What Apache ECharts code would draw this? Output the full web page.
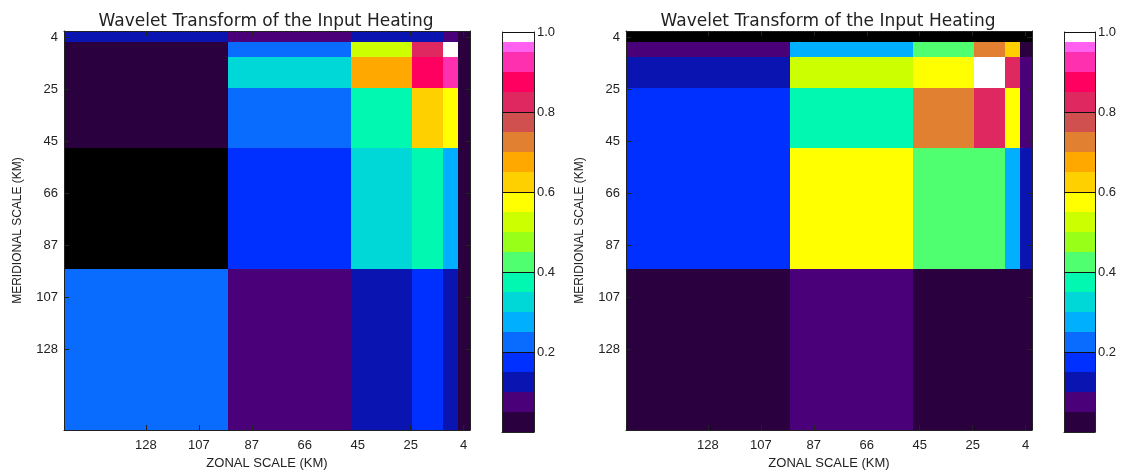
<!DOCTYPE html>
<html>
<head>
<meta charset="utf-8">
<script src="https://cdn.jsdelivr.net/npm/echarts@6/dist/echarts.min.js"></script>
<style>
  html, body { margin: 0; padding: 0; background: #fff; }
  #chart { width: 1122px; height: 470px; }
</style>
</head>
<body>
<div id="chart"></div>
<script>
// 尺度边界 (km), 小波块的边
var scaleEdges = [1.5, 6, 12, 24, 48, 96, 160];
// 刻度 (km)
var tickValues = [4, 24.67, 45.33, 66, 86.67, 107.33, 128];
var tickLabels = ['4', '25', '45', '66', '87', '107', '128'];

// 色标: 分级边界和颜色
var levelEdges = [0, 0.05, 0.1, 0.15, 0.2, 0.25, 0.3, 0.35, 0.4, 0.45, 0.5,
  0.55, 0.6, 0.65, 0.7, 0.75, 0.8, 0.85, 0.9, 0.95, 0.975, 1.0];
var levelColors = ['#2a003f', '#4a0078', '#0a14b0', '#0030ff', '#0a6cff',
  '#00b0ff', '#00d8d8', '#00f8b0', '#50ff70', '#98ff18', '#ccff00',
  '#ffff00', '#ffd000', '#ffa800', '#e08030', '#d05050', '#e02860',
  '#ff0060', '#ff30b0', '#ff60f0', '#ffffff'];
var colorbarTicks = [0.2, 0.4, 0.6, 0.8, 1.0];

// 行: 上 -> 下 (经向尺度小 -> 大), 列: 左 -> 右 (纬向尺度大 -> 小)
// 负值 = 黑色 (低于色标)
var leftValues = [
  [0.12, 0.07, 0.12, 0.12, 0.07, 0.02],
  [0.02, 0.22, 0.52, 0.82, 0.99, 0.02],
  [0.02, 0.32, 0.67, 0.87, 0.92, 0.02],
  [0.02, 0.22, 0.37, 0.62, 0.57, 0.02],
  [-1, 0.17, 0.32, 0.37, 0.27, 0.02],
  [0.22, 0.07, 0.12, 0.17, 0.12, 0.02]
];
var rightValues = [
  [-1, -1, -1, -1, -1, -1],
  [0.07, 0.27, 0.42, 0.72, 0.62, 0.02],
  [0.12, 0.52, 0.57, 0.99, 0.82, 0.07],
  [0.17, 0.37, 0.72, 0.82, 0.57, 0.07],
  [0.17, 0.57, 0.42, 0.42, 0.27, 0.12],
  [0.02, 0.07, 0.02, 0.02, 0.02, 0.02]
];

var titleText = 'Wavelet Transform of the Input Heating';
var xName = 'ZONAL SCALE (KM)';
var yName = 'MERIDIONAL SCALE (KM)';

function levelColor(v) {
  if (v < 0) return '#000000';
  for (var i = 0; i < levelColors.length; i++) {
    if (v < levelEdges[i + 1]) return levelColors[i];
  }
  return levelColors[levelColors.length - 1];
}

// 单元格: [x0, x1, y0, y1, value]
function buildCells(values) {
  var n = scaleEdges.length - 1;
  var cells = [];
  for (var r = 0; r < n; r++) {
    for (var c = 0; c < n; c++) {
      var xi = n - 1 - c; // 左边是大尺度
      cells.push([scaleEdges[xi], scaleEdges[xi + 1], scaleEdges[r], scaleEdges[r + 1], values[r][c]]);
    }
  }
  return cells;
}

function colorbarData() {
  var d = [];
  for (var i = 0; i < levelColors.length; i++) {
    d.push([0, 1, levelEdges[i], levelEdges[i + 1], i]);
  }
  return d;
}

// 取整避免相邻块之间的缝
function rectShape(api) {
  var p0 = api.coord([api.value(0), api.value(2)]);
  var p1 = api.coord([api.value(1), api.value(3)]);
  var x0 = Math.round(Math.min(p0[0], p1[0])), x1 = Math.round(Math.max(p0[0], p1[0]));
  var y0 = Math.round(Math.min(p0[1], p1[1])), y1 = Math.round(Math.max(p0[1], p1[1]));
  return { x: x0, y: y0, width: x1 - x0, height: y1 - y0 };
}
function renderRect(params, api) {
  return { type: 'rect', shape: rectShape(api), style: { fill: levelColor(api.value(4)) } };
}
function renderBar(params, api) {
  return { type: 'rect', shape: rectShape(api), style: { fill: levelColors[api.value(4)] } };
}

var labelFont = { color: '#222', fontSize: 13, fontFamily: 'Liberation Sans' };
var lineStyle = { color: '#222', width: 1 };

function nearestTick(v) {
  var best = 0;
  for (var i = 1; i < tickValues.length; i++) {
    if (Math.abs(tickValues[i] - v) < Math.abs(tickValues[best] - v)) best = i;
  }
  return best;
}

function mainX(gi, pos, withLabel) {
  return {
    gridIndex: gi, type: 'value', position: pos, inverse: true,
    min: scaleEdges[0], max: scaleEdges[scaleEdges.length - 1], z: 5,
    name: withLabel ? xName : '', nameLocation: 'middle', nameGap: 27,
    nameTextStyle: { color: '#222', fontSize: 13, fontFamily: 'Liberation Sans' },
    axisLine: { show: true, onZero: false, lineStyle: lineStyle },
    axisTick: { show: true, inside: true, length: 5, customValues: tickValues, lineStyle: lineStyle },
    axisLabel: Object.assign({
      show: withLabel, margin: 9, customValues: tickValues,
      formatter: function (v) { return tickLabels[nearestTick(v)]; }
    }, labelFont),
    splitLine: { show: false }
  };
}
function mainY(gi, pos, withLabel) {
  return {
    gridIndex: gi, type: 'value', position: pos, inverse: true,
    min: scaleEdges[0], max: scaleEdges[scaleEdges.length - 1], z: 5,
    name: withLabel ? yName : '', nameLocation: 'middle', nameGap: 40,
    nameTextStyle: { color: '#222', fontSize: 12, fontFamily: 'Liberation Sans' },
    axisLine: { show: true, onZero: false, lineStyle: lineStyle },
    axisTick: { show: true, inside: true, length: 5, customValues: tickValues, lineStyle: lineStyle },
    axisLabel: Object.assign({
      show: withLabel, margin: 6, customValues: tickValues,
      formatter: function (v) { return tickLabels[nearestTick(v)]; }
    }, labelFont),
    splitLine: { show: false }
  };
}

function barX(gi, pos) {
  return {
    gridIndex: gi, type: 'value', position: pos, min: 0, max: 1, z: 5,
    axisLine: { show: pos === 'bottom', lineStyle: lineStyle },
    axisTick: { show: false }, axisLabel: { show: false }, splitLine: { show: false }
  };
}
function barY(gi, pos) {
  return {
    gridIndex: gi, type: 'value', position: pos, min: 0, max: 1, z: 5,
    axisLine: { show: true, lineStyle: lineStyle },
    axisTick: {
      show: pos === 'right', inside: true, length: 31, customValues: colorbarTicks,
      lineStyle: { color: '#111', width: 1 }
    },
    axisLabel: Object.assign({
      show: pos === 'right', margin: 3, customValues: colorbarTicks,
      formatter: function (v) { return v.toFixed(1); }
    }, labelFont),
    splitLine: { show: false }
  };
}

var chart = echarts.init(document.getElementById('chart'), null, { renderer: 'canvas' });

var titleStyle = { fontSize: 17, fontWeight: 'normal', color: '#222', fontFamily: 'DejaVu Sans' };

var option = {
  backgroundColor: '#fff',
  animation: false,
  title: [
    { text: titleText, left: 261, top: 8, textAlign: 'center', textStyle: titleStyle },
    { text: titleText, left: 823, top: 8, textAlign: 'center', textStyle: titleStyle }
  ],
  grid: [
    { left: 64, top: 31, width: 406, height: 399, outerBoundsMode: 'none' },
    { left: 626, top: 31, width: 406, height: 399, outerBoundsMode: 'none' },
    { left: 502, top: 32, width: 32, height: 400, outerBoundsMode: 'none' },
    { left: 1064, top: 32, width: 31, height: 400, outerBoundsMode: 'none' }
  ],
  xAxis: [
    mainX(0, 'bottom', true), mainX(0, 'top', false),
    mainX(1, 'bottom', true), mainX(1, 'top', false),
    barX(2, 'bottom'), barX(3, 'bottom')
  ],
  yAxis: [
    mainY(0, 'left', true), mainY(0, 'right', false),
    mainY(1, 'left', true), mainY(1, 'right', false),
    barY(2, 'left'), barY(2, 'right'),
    barY(3, 'left'), barY(3, 'right')
  ],
  series: [
    { type: 'custom', xAxisIndex: 0, yAxisIndex: 0, renderItem: renderRect,
      encode: { x: [0, 1], y: [2, 3] }, data: buildCells(leftValues), silent: true },
    { type: 'custom', xAxisIndex: 2, yAxisIndex: 2, renderItem: renderRect,
      encode: { x: [0, 1], y: [2, 3] }, data: buildCells(rightValues), silent: true },
    { type: 'custom', xAxisIndex: 4, yAxisIndex: 4, renderItem: renderBar,
      encode: { x: [0, 1], y: [2, 3] }, data: colorbarData(), silent: true },
    { type: 'custom', xAxisIndex: 5, yAxisIndex: 6, renderItem: renderBar,
      encode: { x: [0, 1], y: [2, 3] }, data: colorbarData(), silent: true }
  ]
};
chart.setOption(option);
</script>
</body>
</html>
